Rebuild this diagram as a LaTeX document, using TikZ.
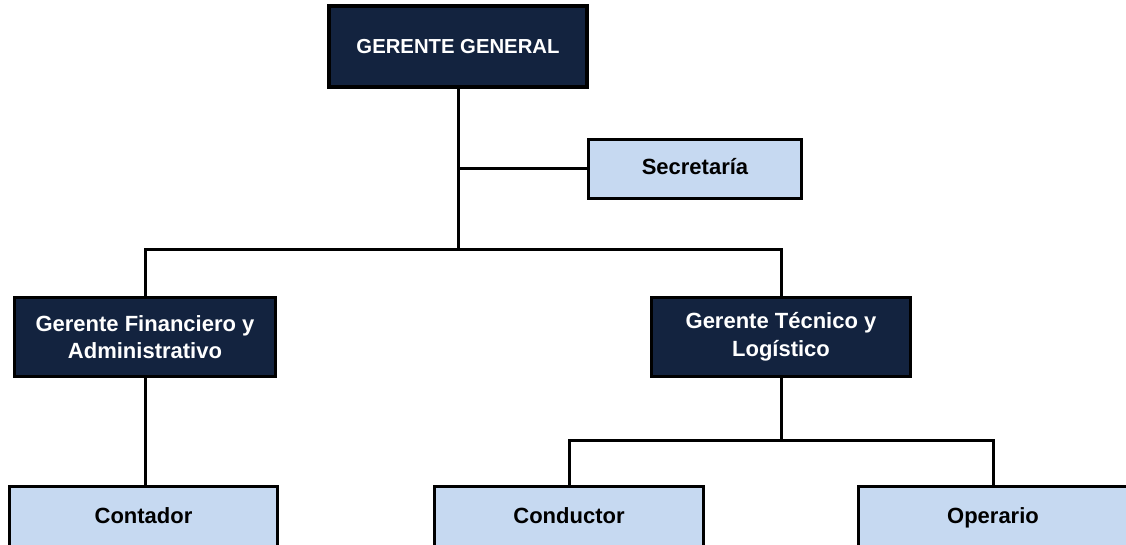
\documentclass[tikz,border=0pt]{standalone}
\usepackage{fontspec}
\setmainfont{Liberation Sans}
\definecolor{navy}{HTML}{13233F}
\definecolor{lightblue}{HTML}{C6D9F1}
\tikzset{
  darkbox/.style={draw=black, line width=3pt, fill=navy, text=white, font=\fontsize{22}{27.5}\selectfont\bfseries, align=center, inner sep=0pt},
  lightbox/.style={draw=black, line width=3pt, fill=lightblue, text=black, font=\fontsize{22}{27.5}\selectfont\bfseries, align=center, inner sep=0pt, text height=16pt, text depth=5pt},
  link/.style={draw=black, line width=3pt}
}
\begin{document}
\begin{tikzpicture}[x=1pt,y=-1pt]
\useasboundingbox (0,0) rectangle (1126,545);
\clip (0,0) rectangle (1126,545);
\fill[white] (0,0) rectangle (1126,545);
% nodes
\node[darkbox, line width=4pt, font=\fontsize{20.3}{25}\selectfont\bfseries, minimum width=258pt, minimum height=81pt] (gg) at (458,46.5) {GERENTE GENERAL};
\node[lightbox, minimum width=213pt, minimum height=59pt] (sec) at (695,169) {Secretaría};
\node[darkbox, minimum width=261pt, minimum height=79pt] (gf) at (145,337) {Gerente Financiero y\\Administrativo};
\node[darkbox, minimum width=259pt, minimum height=79pt] (gt) at (781,337) {Gerente Técnico y\\Logístico};
\node[lightbox, minimum width=268pt, minimum height=64pt, anchor=north] (cont) at (143.5,484.5) {Contador};
\node[lightbox, minimum width=269pt, minimum height=64pt, anchor=north] (cond) at (569,484.5) {Conductor};
\node[lightbox, minimum width=269pt, minimum height=64pt, anchor=north] (oper) at (993,484.5) {Operario};
% junctions
\coordinate (j1) at (458,250);
\coordinate (s1) at (458,169);
\coordinate (j2) at (781,440);
% connectors
\draw[link] (gg.south) -- (j1);
\draw[link] (s1) -- (sec.west);
\draw[link] (gf.north) |- (j1) -| (gt.north);
\draw[link] (gf.south) -- (gf.south |- cont.north);
\draw[link] (gt.south) -- (j2);
\draw[link] (cond.north) |- (j2) -| (oper.north);
\end{tikzpicture}
\end{document}
